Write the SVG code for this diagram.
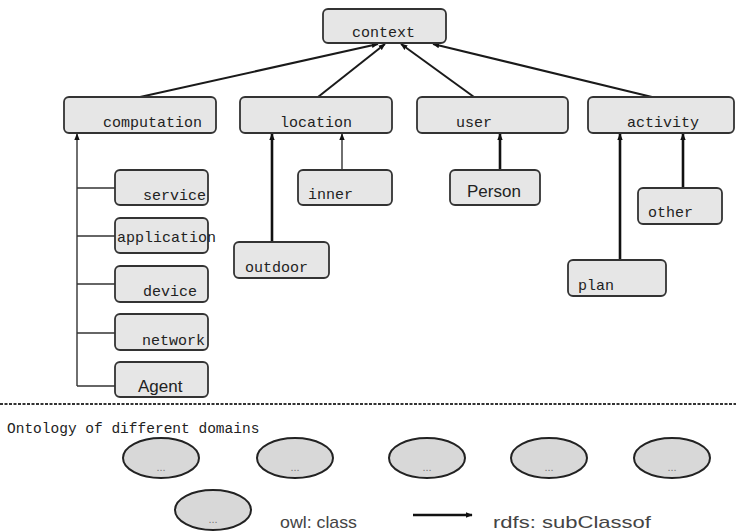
<svg xmlns="http://www.w3.org/2000/svg" width="736" height="532" viewBox="0 0 736 532">
  <style>
    .box { fill: #e6e6e6; stroke: #333; stroke-width: 1.8; }
    .cls { fill: #d8d8d8; stroke: #222; stroke-width: 2; }
    .mono { font-family: "Liberation Mono", "DejaVu Sans Mono", monospace; font-size: 15px; fill: #222; }
    .caption { font-size: 14.5px; }
    .sans { font-family: "Liberation Sans", Arial, sans-serif; font-size: 17px; fill: #222; }
    .legend { fill: #444; }
    .dots { font-family: "Liberation Sans", Arial, sans-serif; font-size: 11px; fill: #777; }
    .edge { fill: none; stroke: #1a1a1a; stroke-width: 2; }
    .thin { fill: none; stroke: #333; stroke-width: 1.4; }
    .thick { fill: none; stroke: #111; stroke-width: 2.6; }
  </style>
  <defs>
    <marker id="head" viewBox="0 0 10 10" refX="9" refY="5" markerWidth="7" markerHeight="7" markerUnits="userSpaceOnUse" orient="auto">
      <path d="M0,1 L10,5 L0,9 z" fill="#111"/>
    </marker>
  </defs>

  <rect width="736" height="532" fill="#fff"/>

  <!-- subclass connectors -->
  <g id="connectors">
    <line class="edge" x1="140" y1="97" x2="378" y2="44" marker-end="url(#head)"/>
    <line class="edge" x1="318" y1="97" x2="385" y2="44" marker-end="url(#head)"/>
    <line class="edge" x1="474" y1="97" x2="401" y2="44" marker-end="url(#head)"/>
    <line class="edge" x1="652" y1="97" x2="433" y2="44" marker-end="url(#head)"/>

    <!-- computation tree -->
    <line class="thin" x1="77" y1="386" x2="77" y2="134" marker-end="url(#head)"/>
    <line class="thin" x1="77" y1="188" x2="115" y2="188"/>
    <line class="thin" x1="77" y1="236" x2="115" y2="236"/>
    <line class="thin" x1="77" y1="284" x2="115" y2="284"/>
    <line class="thin" x1="77" y1="333" x2="115" y2="333"/>
    <line class="thin" x1="77" y1="386" x2="115" y2="386"/>

    <!-- location tree -->
    <line class="thick" x1="272" y1="242" x2="272" y2="134" marker-end="url(#head)"/>
    <line class="thin" x1="342" y1="170" x2="342" y2="134" marker-end="url(#head)"/>

    <!-- user tree -->
    <line class="thick" x1="500" y1="170" x2="500" y2="134" marker-end="url(#head)"/>

    <!-- activity tree -->
    <line class="thick" x1="620" y1="260" x2="620" y2="134" marker-end="url(#head)"/>
    <line class="thick" x1="683" y1="188" x2="683" y2="134" marker-end="url(#head)"/>

    <!-- legend arrow -->
    <line class="thick" x1="413" y1="515" x2="472" y2="515" marker-end="url(#head)"/>
  </g>

  <g id="context">
    <rect class="box" x="323" y="9" width="123" height="34" rx="5"/>
    <text class="mono" x="352" y="37">context</text>
  </g>

  <g id="computation">
    <rect class="box" x="64" y="97" width="152" height="36" rx="5"/>
    <text class="mono" x="103" y="127">computation</text>
  </g>
  <g id="location">
    <rect class="box" x="240" y="97" width="152" height="36" rx="5"/>
    <text class="mono" x="280" y="127">location</text>
  </g>
  <g id="user">
    <rect class="box" x="417" y="97" width="151" height="36" rx="5"/>
    <text class="mono" x="456" y="127">user</text>
  </g>
  <g id="activity">
    <rect class="box" x="588" y="97" width="146" height="36" rx="5"/>
    <text class="mono" x="627" y="127">activity</text>
  </g>

  <g id="service">
    <rect class="box" x="115" y="170" width="93" height="35" rx="5"/>
    <text class="mono" x="143" y="200">service</text>
  </g>
  <g id="application">
    <rect class="box" x="115" y="218" width="93" height="35" rx="5"/>
    <text class="mono" x="117" y="242">application</text>
  </g>
  <g id="device">
    <rect class="box" x="115" y="266" width="93" height="36" rx="5"/>
    <text class="mono" x="143" y="296">device</text>
  </g>
  <g id="network">
    <rect class="box" x="115" y="314" width="93" height="36" rx="5"/>
    <text class="mono" x="142" y="345">network</text>
  </g>
  <g id="agent">
    <rect class="box" x="115" y="362" width="93" height="35" rx="5"/>
    <text class="sans" x="138" y="392">Agent</text>
  </g>

  <g id="inner">
    <rect class="box" x="298" y="170" width="94" height="35" rx="5"/>
    <text class="mono" x="308" y="199">inner</text>
  </g>
  <g id="outdoor">
    <rect class="box" x="234" y="242" width="95" height="36" rx="5"/>
    <text class="mono" x="245" y="272">outdoor</text>
  </g>

  <g id="person">
    <rect class="box" x="450" y="170" width="90" height="35" rx="5"/>
    <text class="sans" x="467" y="197">Person</text>
  </g>

  <g id="other">
    <rect class="box" x="638" y="188" width="84" height="36" rx="5"/>
    <text class="mono" x="648" y="217">other</text>
  </g>
  <g id="plan">
    <rect class="box" x="568" y="260" width="98" height="36" rx="5"/>
    <text class="mono" x="578" y="290">plan</text>
  </g>

  <!-- domain separator -->
  <line x1="0" y1="404" x2="736" y2="404" stroke="#333" stroke-width="2" stroke-dasharray="3 1.5"/>
  <text class="mono caption" x="7" y="433">Ontology of different domains</text>

  <!-- domain ontologies -->
  <g id="domain1">
    <ellipse class="cls" cx="161" cy="458" rx="38" ry="20"/>
    <text class="dots" x="161" y="471" text-anchor="middle">...</text>
  </g>
  <g id="domain2">
    <ellipse class="cls" cx="295" cy="458" rx="38" ry="20"/>
    <text class="dots" x="295" y="471" text-anchor="middle">...</text>
  </g>
  <g id="domain3">
    <ellipse class="cls" cx="427" cy="458" rx="38" ry="20"/>
    <text class="dots" x="427" y="471" text-anchor="middle">...</text>
  </g>
  <g id="domain4">
    <ellipse class="cls" cx="549" cy="458" rx="38" ry="20"/>
    <text class="dots" x="549" y="471" text-anchor="middle">...</text>
  </g>
  <g id="domain5">
    <ellipse class="cls" cx="672" cy="458" rx="38" ry="20"/>
    <text class="dots" x="672" y="471" text-anchor="middle">...</text>
  </g>

  <!-- legend -->
  <g id="legend-class">
    <ellipse class="cls" cx="213" cy="510" rx="38" ry="20"/>
    <text class="dots" x="213" y="523" text-anchor="middle">...</text>
  </g>
  <text class="sans legend" x="280" y="528" textLength="77" lengthAdjust="spacingAndGlyphs">owl: class</text>
  <text class="sans legend" x="493" y="528" textLength="158" lengthAdjust="spacingAndGlyphs">rdfs: subClassof</text>
</svg>
